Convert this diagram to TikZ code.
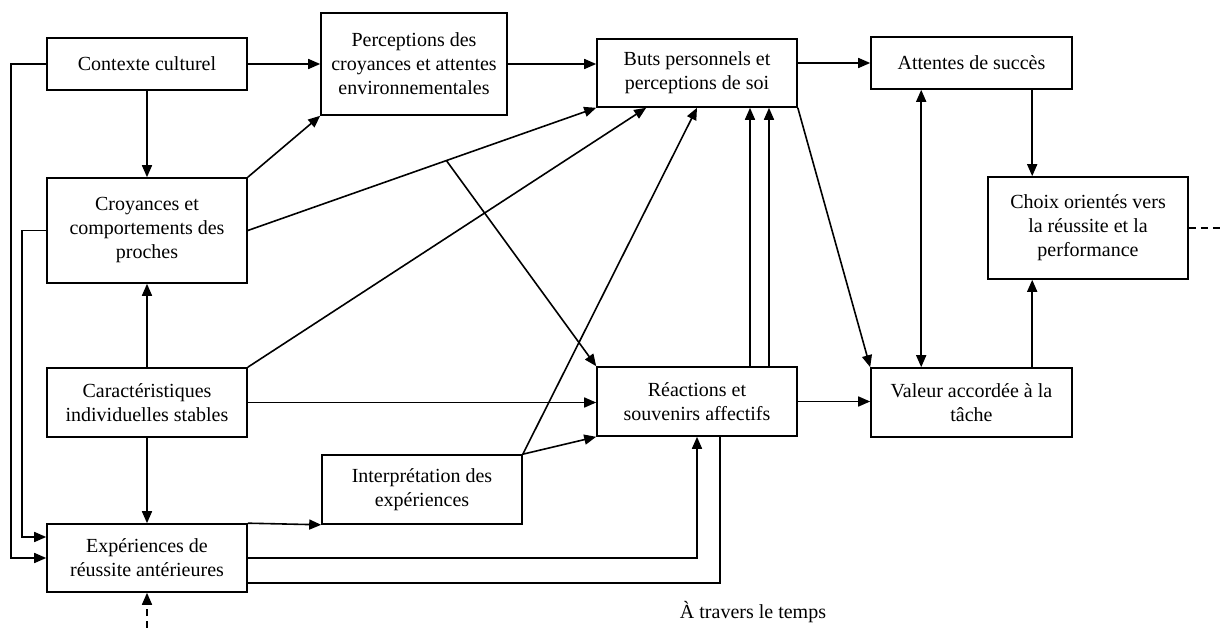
\documentclass[tikz,border=0pt]{standalone}
\usepackage{fontspec}
\setmainfont{Liberation Serif}
\usetikzlibrary{arrows.meta,calc}

\begin{document}
\begin{tikzpicture}[x=1pt,y=-1pt,
  box/.style={draw,line width=1.6pt,rectangle,inner sep=0pt,align=center,
    font=\fontsize{20}{24}\selectfont},
  link/.style={line width=1.6pt},
  arr/.style={link,-{Triangle[length=12pt,width=10pt]}},
  biarr/.style={link,{Triangle[length=12pt,width=10pt]}-{Triangle[length=12pt,width=10pt]}},
  note/.style={inner sep=0pt,font=\fontsize{20}{24}\selectfont}]

% canvas
\fill[white] (0,0) rectangle (1220,628);
\useasboundingbox (0,0) rectangle (1220,628);

% left column
\node[box,minimum width=200pt,minimum height=52pt]  (ctx) at (147,64)    {Contexte culturel};
\node[box,minimum width=200pt,minimum height=105pt] (cro) at (147,230.5) {Croyances et\\comportements des\\proches};
\node[box,minimum width=200pt,minimum height=69pt]  (car) at (147,402.5) {Caractéristiques\\individuelles stables};
\node[box,minimum width=200pt,minimum height=68pt]  (exp) at (147,558)   {Expériences de\\réussite antérieures};

% middle
\node[box,minimum width=186pt,minimum height=102pt] (per) at (414,64)    {Perceptions des\\croyances et attentes\\environnementales};
\node[box,minimum width=200pt,minimum height=69pt]  (int) at (422,489.5) {Interprétation des\\expériences};
\node[box,minimum width=200pt,minimum height=68pt]  (but) at (697,73)    {Buts personnels et\\perceptions de soi};
\node[box,minimum width=200pt,minimum height=69pt]  (rea) at (697,401.5) {Réactions et\\souvenirs affectifs};

% right
\node[box,minimum width=201pt,minimum height=52pt]  (att) at (971.5,63)  {Attentes de succès};
\node[box,minimum width=200pt,minimum height=102pt] (cho) at (1088,228)  {Choix orientés vers\\la réussite et la\\performance};
\node[box,minimum width=201pt,minimum height=69pt]  (val) at (971.5,402.5) {Valeur accordée à la\\tâche};

\node[note] (tmp) at (753,612) {À travers le temps};

% helper points
\coordinate (br) at ($(cro.east)!0.57!(but.south west)$);
\coordinate (c1) at ([xshift=45pt]cho.north west);
\coordinate (c2) at ([xshift=51pt]att.south west);
\coordinate (dIn) at (147,628);
\coordinate (dOut) at (1220,228);

% top row
\draw[arr] (ctx.east) -- (ctx.east -| per.west);
\draw[arr] (per.east) -- (per.east -| but.west);
\draw[arr] (but.east |- att.west) -- (att.west);

% left column verticals
\draw[arr] (ctx.south) -- (cro.north);
\draw[arr] (car.north) -- (cro.south);
\draw[arr] (car.south) -- (exp.north);

% feedback lines on the left
\draw[arr] (ctx.west) -- ++(-35,0) |- (exp.west);
\draw[arr] (cro.west) -- ++(-24,0) |- ([yshift=21pt]exp.west);

% towards perceptions and goals
\draw[arr] (cro.north east) -- (per.south west);
\draw[arr] (cro.east) -- (but.south west);
\draw[arr] (br) -- (rea.north west);
\draw[arr] (car.north east) -- ([xshift=50pt]but.south west);
\draw[arr] (int.north east) -- (but.south);
\draw[arr] ([xshift=53pt]rea.north) -- ([xshift=53pt]but.south);
\draw[arr] ([xshift=72pt]rea.north) -- ([xshift=72pt]but.south);

% lower part
\draw[arr] (car.east) -- (car.east -| rea.west);
\draw[arr] (exp.north east) -- (int.south west);
\draw[arr] (int.north east) -- (rea.south west);
\draw[arr] (exp.east) -| (rea.south);
\draw[link] ([xshift=23pt]rea.south) |- ([yshift=10pt]exp.south east);

% right side
\draw[arr] (but.south east) -- (val.north west);
\draw[arr] (rea.east) -- (rea.east -| val.west);
\draw[biarr] (c2) -- (c2 |- val.north);
\draw[arr] (c1 |- att.south) -- (c1);
\draw[arr] (c1 |- val.north) -- (c1 |- cho.south);

% dashed continuations
\draw[link,dash pattern=on 7pt off 5pt] (cho.east) -- (dOut);
\draw[link,dash pattern=on 7pt off 5pt,-{Triangle[length=12pt,width=10pt]}] (dIn) -- (exp.south);

\end{tikzpicture}
\end{document}
